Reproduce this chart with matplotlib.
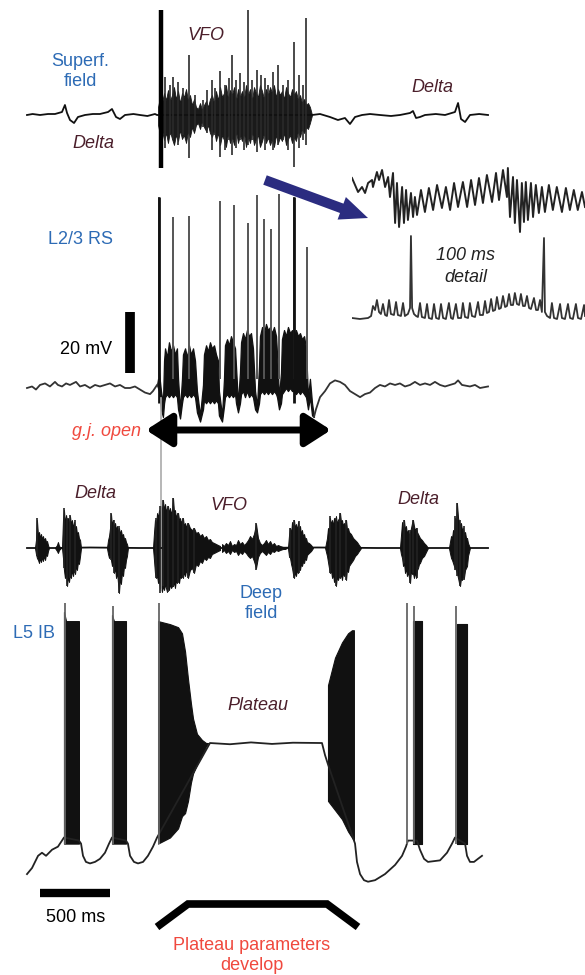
import matplotlib
matplotlib.use("Agg")
import matplotlib.pyplot as plt
from matplotlib.patches import FancyArrow

plt.rcParams['font.family'] = ['Liberation Sans', 'DejaVu Sans']

W, H = 585, 975
MS_PER_PX = 500 / 70.0   # taken from the 500 ms bar
T0_PX = 27               # left end of the long traces

BLUE = '#2d6bb5'
MAROON = '#4b1f2b'
RED = '#f0493e'
NAVY = '#2b2c80'
INK = '#111111'

# ---------------- superficial field (ms, a.u., + is up)
sf_t = [0, 40, 93, 150, 200, 250, 271, 286, 307, 336, 364, 414, 470, 521, 579, 607, 636, 664,
        700, 760, 807, 860, 914, 929, 2036, 2093, 2164, 2221, 2271, 2307, 2343, 2393, 2450,
        2521, 2600, 2664, 2736, 2757, 2779, 2807, 2843, 2920, 2986, 3057, 3079, 3100, 3129,
        3164, 3230, 3293]
sf_v = [0, 1, 0, 1, 1, 3, 10, 2, -5, -8, -2, 0, 1, 1, 3, 6, -2, -4,
        0, 1, 0, -1, 1, 0, 0, 1, -2, -5, -3, -9, -2, 0, 1,
        0, -1, 0, 2, 4, -3, -2, 0, 1, 0, 3, 12, -4, -7,
        0, 1, 0]

sf_env_t = [936, 950, 964, 979, 993, 1007, 1021, 1036, 1050, 1064, 1079, 1093, 1107, 1121,
            1136, 1150, 1164, 1179, 1193, 1207, 1221, 1236, 1250, 1264, 1279, 1293, 1307,
            1321, 1336, 1350, 1364, 1379, 1393, 1407, 1421, 1436, 1450, 1464, 1479, 1493,
            1507, 1521, 1536, 1550, 1564, 1579, 1593, 1607, 1621, 1636, 1650, 1664, 1679,
            1693, 1707, 1721, 1736, 1750, 1764, 1779, 1793, 1807, 1821, 1836, 1850, 1864,
            1879, 1893, 1907, 1921, 1936, 1950, 1964, 1979, 1993, 2007, 2021, 2036]
sf_env_hi = [8, 18, 12, 22, 15, 25, 14, 20, 28, 16, 24, 12, 22, 18, 26, 14, 20, 10, 16, 8,
             6, 12, 5, 10, 14, 8, 16,
             20, 12, 24, 15, 28, 18, 22, 30, 16, 25, 20, 28, 14, 26, 18,
             24, 16, 30, 20, 26, 14, 28, 22, 18, 30, 24, 16, 26, 20, 28,
             22, 30, 18, 26, 20, 24, 16, 28, 22, 18, 26, 20, 24, 15, 20, 12, 16, 10, 12, 8, 0]
sf_env_lo = [-10, -20, -15, -25, -18, -28, -16, -24, -30, -20, -26, -15, -24, -20, -28, -16,
             -22, -12, -18, -10,
             -8, -14, -6, -12, -16, -10, -18,
             -22, -15, -26, -18, -30, -20, -25, -32, -18, -28, -22, -30, -16, -28, -20,
             -26, -18, -32, -22, -28, -16, -30, -24, -20, -32, -26, -18, -28, -22, -30,
             -24, -32, -20, -28, -22, -26, -18, -30, -24, -20, -28, -22, -26, -16, -22, -14,
             -18, -12, -14, -8, 0]

sf_spk_t = [957, 986, 1021, 1043, 1079, 1114, 1157, 1200, 1257, 1286, 1321, 1343, 1379, 1414,
            1443, 1464, 1493, 1521, 1550, 1579, 1607, 1643, 1671, 1700, 1721, 1757, 1793,
            1829, 1864, 1907, 1943, 1971, 1993]
sf_spk_hi = [105, 38, 30, 38, 33, 27, 60, 20, 15, 25, 35, 27, 44, 30, 37, 60, 35, 42, 33,
             105, 35, 45, 40, 37, 30, 43, 50, 30, 35, 73, 40, 30, 97]
sf_spk_lo = [-53, -33, -20, -25, -30, -20, -43, -15, -12, -18, -35, -20, -42, -35, -25, -40,
             -33, -25, -35, -30, -25, -37, -25, -35, -25, -35, -30, -25, -35, -52, -33, -25, -30]

# ---------------- L2/3 RS cell (ms, mV)
rs_t = [0, 36, 64, 93, 129, 164, 200, 221, 250, 279, 307, 350, 379, 414, 450, 486, 521, 557,
        593, 629, 664, 700, 736, 771, 807, 843, 879, 900, 929,
        2050, 2064, 2093, 2129, 2164, 2200, 2236, 2271, 2307, 2343, 2379, 2414, 2450, 2486,
        2521, 2557, 2593, 2629, 2664, 2700, 2736, 2771, 2807, 2843, 2879, 2914, 2950, 2986,
        3021, 3057, 3079, 3107, 3164, 3200, 3236, 3293]
rs_v = [-65, -64.5, -65.5, -64, -63.5, -64.5, -63, -64, -64.5, -63.5, -64, -63, -64.5, -64,
        -65, -64, -64.5, -64, -63.5, -64.5, -64, -65, -65, -64.5, -65.5, -66.5, -67, -66, -64,
        -74.5, -72, -68, -66, -63.5, -62.5, -63, -64, -66, -67, -68, -67, -66.5, -65,
        -64, -64.5, -63.5, -64, -63.5, -64.5, -64, -63, -64, -63.5, -64, -63, -64, -64.5,
        -64, -63.5, -62.5, -64, -64.5, -64, -65, -64.5]

rs_env_t = [929, 943, 957, 971,
            979, 986, 1000, 1014, 1029, 1043, 1057, 1071, 1079, 1093, 1107,
            1114, 1129, 1143, 1157, 1171, 1186, 1200, 1214, 1236, 1257,
            1264, 1279, 1293, 1307, 1321, 1336, 1350, 1364, 1371, 1393, 1407,
            1414, 1429, 1443, 1457, 1471, 1486, 1493, 1507, 1521,
            1529, 1543, 1557, 1571, 1586, 1600, 1614, 1629, 1643, 1657,
            1664, 1679, 1693, 1707, 1721, 1736, 1750, 1764, 1779, 1786, 1800, 1814,
            1821, 1836, 1850, 1864, 1879, 1893, 1907, 1921, 1936, 1950, 1964, 1979, 1993,
            2007, 2021, 2036, 2050]
rs_env_hi = [-64, -60, -66, -70,
             -56, -52, -55, -50, -53, -51, -54, -52, -62, -72, -62,
             -54, -52, -55, -51, -54, -52, -56, -66, -74, -64,
             -54, -51, -53, -50, -52, -51, -54, -56, -66, -74, -62,
             -51, -49, -51, -48, -50, -52, -58, -70, -60,
             -50, -47, -49, -46, -48, -47, -52, -66, -71, -58,
             -48, -45, -47, -44, -46, -45, -47, -45, -48, -54, -68, -60,
             -49, -46, -48, -45, -47, -46, -48, -46, -48, -47, -49, -48, -52,
             -68, -62, -70, -74.5]
rs_env_lo = [-64, -66, -72, -74.5,
             -70, -68, -67, -68, -67, -68, -67, -68, -72, -75, -70,
             -68, -67, -68, -67, -68, -67, -68, -73, -76, -72,
             -69, -70, -69, -70, -69, -70, -69, -70, -74, -76, -71,
             -68, -67, -68, -67, -68, -67, -70, -73, -70,
             -67, -66, -68, -66, -68, -67, -68, -72, -73, -70,
             -67, -66, -67, -66, -67, -66, -67, -66, -67, -68, -72, -70,
             -67, -66, -65, -66, -65, -66, -66, -67, -66, -67, -66, -67, -68,
             -72, -68, -74, -74.5]

rs_spk_t = [943, 1043, 1157, 1379, 1479, 1579, 1643, 1693, 1743, 1800, 1907, 2000]
rs_spk_top = [-2.4, -9, -8.6, -3.7, -5, -10.9, -1.7, -9.6, -12.9, -1.4, -2.4, -18.8]

# ---------------- 100 ms detail (ms inside the window)
det_f_t = [0, 1.3, 2.6, 4.3, 5.6, 6.9, 8.6, 9.0, 10.7, 11.6, 12.9, 14.2, 15.5, 16.3, 17.6,
           18.5, 19.3, 20.2, 21.5, 22.3, 23.2, 24.0, 25.3, 26.2, 27.0, 27.9, 29.6, 31.3,
           33.0, 34.8, 36.5, 38.6, 40.3, 42.1, 43.8, 45.5, 47.6, 49.4, 51.1, 52.8, 54.5,
           56.2, 57.9, 60.1, 61.8, 63.1, 64.8, 66.5, 66.9, 67.8, 69.1, 69.9, 70.8, 72.1,
           72.9, 73.8, 74.6, 75.5, 76.8, 77.7, 78.9, 80.2, 81.5, 82.8, 84.5, 86.2, 87.9,
           90.1, 91.8, 93.5, 95.2, 96.9, 98.7, 100]
det_f_v = [17, 10, 3, 8, 2, 12, 15, 8, 23, 15, 25, 8, 18, -2, 22, -28, 12, -32, 8, -28,
           5, -25, 2, -22, -2, -20, 5, -17, 7, -15, 10, -13, 8, -15, 12, -12, 13, -12, 15, -10,
           17, -8, 20, -7, 22, -5, 25, -2, 27, -22, 18, -28, 15, -37, 12, -27, 13, -25, 12, -22,
           10, -18, 8, -17, 10, -15, 8, -17, 7, -15, 5, -15, 3, -12]

det_c_t = [0, 3.4, 6.9, 8.2, 9.0, 9.9, 10.7, 11.6, 12.4, 13.3, 14.2, 15.0, 15.9, 16.7, 18.0,
           18.9, 19.7, 21.0, 21.9, 22.7, 24.0, 24.9, 25.3, 25.8, 26.6, 27.5, 28.3, 29.2, 30.0,
           31.3, 32.2, 33.0, 34.3, 35.2, 36.1, 37.3, 38.2, 39.1, 40.3, 41.6, 42.5, 43.3, 44.6,
           45.5, 46.8, 47.6, 48.5, 49.8, 50.6, 51.5, 52.8, 54.1, 54.9, 56.2, 57.1, 57.9, 58.8,
           59.7, 60.5, 61.4, 62.2, 63.1, 63.9, 64.8, 65.7, 66.5, 67.4, 68.2, 69.1, 69.9, 70.8,
           71.7, 72.5, 73.4, 74.2, 75.1, 76.0, 76.8, 78.1, 79.0, 79.8, 80.7, 81.5, 82.4, 82.8,
           83.7, 85.0, 85.8, 86.7, 88.0, 89.3, 90.1, 91.4, 92.7, 93.6, 94.8, 96.1, 97.0, 98.3,
           99.6, 100]
det_c_v = [0, -1, 0, 2, 12, 8, 18, 6, 4, 14, 3, 2, 18, 4, 3,
           16, 3, 2, 15, 2, 4, 10, 82, 10, 4, 2, 1, 15, 1,
           0, 14, 0, -1, 14, 0, -1, 14, 0, -1, 15, 0, -1, 14,
           0, 0, 15, 1, 0, 15, 2, 1, 16, 3, 3, 17, 5, 6,
           19, 7, 8, 21, 9, 10, 22, 11, 12, 24, 13, 13, 25, 14,
           13, 24, 12, 12, 22, 10, 9, 20, 8, 8, 18, 6, 80, 6,
           2, 0, 15, 0, -1, 14, 0, -1, 14, 0, -1, 14, 0, -1,
           13, 2]

# ---------------- deep field (ms, a.u.)
df_line_t = [0, 200, 450, 800, 1500, 2080, 2500, 2950, 3293]
df_line_v = [0, 0, 0.5, 0, 0, 0.5, 0, 0, 0]

df_bursts = [
    ([57, 64, 71, 79, 86, 93, 100, 107, 114, 121, 129, 136, 143, 150, 157],
     [0, 8, 28, 12, 16, 10, 14, 9, 12, 8, 10, 6, 7, 3, 0],
     [0, -6, -10, -12, -15, -10, -14, -9, -13, -8, -12, -6, -8, -3, 0]),
    ([200, 214, 221, 229, 243],
     [0, 3, 6, 2, 0],
     [0, -3, -5, -2, 0]),
    ([250, 257, 264, 271, 279, 286, 293, 300, 307, 314, 321, 329, 336, 343, 350, 357, 364,
      371, 379, 386],
     [0, 28, 38, 25, 33, 26, 30, 22, 32, 24, 28, 20, 26, 18, 22, 14, 16, 10, 8, 0],
     [0, -10, -22, -30, -25, -38, -28, -34, -26, -30, -22, -28, -20, -26, -18, -22, -14,
      -16, -8, 0]),
    ([571, 579, 586, 593, 600, 607, 614, 621, 629, 636, 643, 650, 657, 664, 671, 679, 686,
      693, 700, 707, 714, 721],
     [0, 8, 12, 20, 34, 22, 28, 20, 25, 18, 22, 16, 20, 14, 18, 12, 14, 9, 10, 6, 4, 0],
     [0, -6, -10, -8, -12, -18, -14, -25, -20, -30, -24, -35, -45, -30, -36, -24, -28, -18,
      -20, -12, -8, 0]),
    ([900, 907, 914, 921, 929, 936, 943, 950, 957, 964, 971, 979, 986, 993, 1000, 1007,
      1014, 1021, 1029, 1036, 1043, 1050, 1057, 1064, 1071, 1079, 1086, 1093, 1100, 1107,
      1114, 1121, 1129, 1136, 1143, 1150, 1164, 1179, 1193, 1207, 1221, 1236, 1250, 1264,
      1279, 1293, 1307, 1321, 1336, 1350, 1364, 1379],
     [0, 15, 28, 22, 35, 30, 38, 32, 42, 36, 48, 38, 44, 36, 40, 42, 35, 40, 34, 38,
      50, 36, 38, 30, 34, 35, 28, 30, 25, 28, 30, 22, 25, 20, 24, 25, 20, 18, 20, 15,
      16, 12, 14, 10, 12, 8, 9, 6, 5, 4, 3, 2],
     [0, -12, -25, -30, -28, -35, -32, -40, -38, -44, -38, -42, -36, -40, -44, -38, -42,
      -36, -40, -38, -38, -34, -40, -32, -35, -30, -35, -28, -30, -26, -30, -24, -28, -22,
      -25, -30, -22, -20, -25, -16, -18, -13, -15, -10, -12, -9, -10, -6, -5, -4, -3, -2]),
    ([1393, 1407, 1421, 1436, 1450, 1464, 1479, 1493, 1507, 1521, 1536, 1550, 1564, 1579,
      1593, 1607, 1621, 1636, 1650, 1664, 1679, 1693, 1707, 1721, 1736, 1750, 1764, 1779,
      1793, 1807, 1829, 1843, 1857],
     [4, 2, 5, 3, 7, 2, 4, 3, 8, 4, 6, 3, 5, 8, 12, 9, 14, 24, 10, 5, 3, 5, 8, 4, 7, 3, 5,
      2, 3, 2, 1, 1, 0],
     [-4, -2, -5, -3, -6, -2, -4, -3, -7, -4, -6, -3, -5, -8, -10, -8, -13, -20, -9, -5, -3,
      -5, -7, -4, -6, -3, -4, -2, -3, -2, -1, -1, 0]),
    ([1864, 1871, 1879, 1886, 1893, 1900, 1907, 1914, 1921, 1929, 1936, 1943, 1950, 1957,
      1964, 1971, 1979, 1986, 1993, 2000, 2014, 2029, 2043],
     [0, 12, 20, 14, 26, 18, 28, 20, 24, 18, 26, 16, 22, 14, 18, 12, 14, 9, 10, 6, 5, 3, 0],
     [0, -8, -10, -16, -20, -26, -30, -24, -28, -22, -25, -20, -22, -16, -18, -14, -15, -10,
      -12, -7, -5, -3, 0]),
    ([2129, 2143, 2150, 2157, 2164, 2171, 2179, 2186, 2193, 2200, 2207, 2214, 2221, 2229,
      2236, 2243, 2250, 2257, 2264, 2271, 2279, 2286, 2293, 2300, 2314, 2329, 2343, 2357,
      2371, 2386],
     [0, 10, 20, 15, 30, 24, 28, 22, 30, 26, 32, 24, 28, 30, 35, 26, 28, 22, 25, 20, 28, 18,
      20, 16, 14, 10, 8, 6, 3, 0],
     [0, -8, -14, -20, -25, -22, -30, -26, -34, -30, -38, -28, -32, -28, -30, -26, -32, -24,
      -28, -22, -32, -20, -24, -18, -15, -12, -8, -6, -3, 0]),
    ([2664, 2671, 2679, 2686, 2693, 2700, 2707, 2714, 2721, 2729, 2736, 2743, 2750, 2757,
      2764, 2771, 2779, 2786, 2793, 2800, 2807, 2821, 2836, 2850, 2864],
     [0, 12, 26, 14, 28, 18, 22, 14, 18, 12, 16, 20, 25, 28, 22, 18, 20, 16, 14, 12, 10, 8,
      5, 3, 0],
     [0, -6, -10, -18, -15, -25, -20, -28, -24, -30, -35, -22, -26, -25, -30, -24, -30, -22,
      -20, -16, -15, -10, -8, -4, 0]),
    ([3014, 3021, 3029, 3036, 3043, 3050, 3057, 3064, 3071, 3079, 3086, 3093, 3100, 3107,
      3114, 3121, 3129, 3136, 3143, 3150, 3164],
     [0, 6, 12, 10, 18, 14, 30, 24, 45, 30, 26, 22, 25, 18, 20, 14, 16, 10, 10, 5, 0],
     [0, -5, -10, -12, -15, -18, -20, -22, -25, -30, -35, -38, -30, -32, -28, -30, -22, -20,
      -18, -8, 0]),
]

df_spk_t = [71, 264, 286, 307, 343, 600, 621, 657, 921, 950, 971, 1007, 1043, 1079, 1114,
            1150, 1193, 1636, 1879, 1907, 1943, 2164, 2207, 2236, 2279, 2693, 2736, 2757,
            2786, 3057, 3071, 3093, 3121]
df_spk_hi = [30, 40, 30, 33, 28, 35, 28, 22, 30, 42, 48, 42, 50, 35, 30, 25, 20, 25, 20,
             28, 27, 32, 30, 35, 28, 28, 18, 28, 20, 32, 45, 28, 22]
df_spk_lo = [-8, -20, -38, -30, -25, -12, -25, -45, -30, -45, -38, -44, -38, -35, -30, -30,
             -25, -22, -10, -30, -25, -25, -38, -30, -32, -15, -35, -25, -30, -22, -28, -38, -32]

# ---------------- L5 IB cell (ms, mV)
ib_t = [0, 36, 79, 107, 136, 179, 221, 250, 264, 371, 386, 400, 421, 450, 486, 521, 557, 586,
        607, 707, 721, 736, 764, 793, 829, 864, 900, 929, 1307, 1450, 1600, 1750, 1900, 2107,
        2129, 2150, 2343, 2357, 2379, 2407, 2436, 2486, 2557, 2629, 2679, 2707, 2721, 2786,
        2807, 2836, 2864, 2950, 3000, 3036, 3057, 3129, 3143, 3164, 3193, 3221, 3250]
ib_v = [-76, -74, -70, -69, -70, -68, -67, -65, -64, -65, -66, -70, -72, -72.5, -72, -71, -69,
        -66, -64, -65, -66, -70, -72, -72.5, -72, -70, -67, -64, -33, -33.4, -32.8, -33.3,
        -32.9, -33, -37, -40, -66, -72, -76, -78, -78.5, -78, -76, -73, -70, -67, -65, -65,
        -68, -71, -72, -71.5, -69, -66, -64, -66, -70, -72, -72, -71, -70]

ib_bursts = [
    ([264, 279, 371], [10, 7, 7], [-66, -66, -66]),
    ([607, 621, 707], [9, 7, 7], [-66, -66, -66]),
    ([936, 1021, 1079, 1107, 1129, 1150, 1171, 1186, 1214, 1250, 1279, 1293],
     [7, 6, 5, 3, -3, -12, -20, -25, -30, -32, -33, -33],
     [-66, -64, -61, -57, -56, -52, -46, -43, -40, -37, -34, -33]),
    ([2150, 2200, 2250, 2293, 2321, 2335],
     [-14, -5, 0, 3, 4, 4],
     [-52, -55, -58, -62, -64, -65]),
    ([2757, 2821], [7, 7], [-66, -66]),
    ([3071, 3143], [6, 6], [-66, -66]),
]
ib_spk_t = [271, 614, 943, 2714, 2764, 3064]
ib_spk_top = [13, 12, 13, 13, 12, 12]

marker_ms = 957

fig = plt.figure(figsize=(W / 100, H / 100), dpi=100)


def band(top, bottom, left=0, right=W):
    ax = fig.add_axes([left / W, 1 - bottom / H, (right - left) / W, (bottom - top) / H])
    ax.set_axis_off()
    ax.patch.set_alpha(0)
    return ax


def long_time(ax):
    ax.set_xlim(-T0_PX * MS_PER_PX, (W - T0_PX) * MS_PER_PX)


# superficial field
ax = band(0, 200)
long_time(ax)
ax.set_ylim(-85, 115)
ax.plot(sf_t, sf_v, color=INK, lw=1.3)
ax.fill_between(sf_env_t, sf_env_lo, sf_env_hi, color='#1a1a1a', lw=0.6)
ax.vlines(sf_spk_t, sf_spk_lo, sf_spk_hi, color='#2a2a2a', lw=1.2)
ax.vlines(sf_spk_t[0], sf_spk_lo[0], sf_spk_hi[0], color='black', lw=3.2)

# L2/3 RS
ax = band(180, 440)
long_time(ax)
ax.set_ylim(-82.05, 3.2)
ax.plot(rs_t[:29], rs_v[:29], color='#333333', lw=1.3)
ax.plot(rs_t[29:], rs_v[29:], color='#333333', lw=1.3)
ax.fill_between(rs_env_t, rs_env_lo, rs_env_hi, color=INK, edgecolor=INK, lw=0.9)
ax.vlines(rs_spk_t, -62, rs_spk_top, color='#555555', lw=1.4)
ax.vlines([rs_spk_t[0], rs_spk_t[-2]], -70, [rs_spk_top[0], rs_spk_top[-2]], color=INK, lw=2)
ax.plot([736, 736], [-60, -40], color='black', lw=7, solid_capstyle='butt')

# detail insets
ax = band(150, 240, 352, 585)
ax.set_xlim(0, 100)
ax.set_ylim(-45, 45)
ax.plot(det_f_t, det_f_v, color='#222222', lw=1.4)

ax = band(225, 330, 352, 585)
ax.set_xlim(0, 100)
ax.set_ylim(-12, 93)
ax.plot(det_c_t, det_c_v, color='#333333', lw=1.3)

# deep field
ax = band(460, 640)
long_time(ax)
ax.set_ylim(-92, 88)
ax.plot([marker_ms, marker_ms], [-42, 150], color='#aaaaaa', lw=1.2, clip_on=False)
ax.plot(df_line_t, df_line_v, color=INK, lw=1.3)
for bt, bhi, blo in df_bursts:
    ax.fill_between(bt, blo, bhi, color=INK, lw=0.7)
ax.vlines(df_spk_t, df_spk_lo, df_spk_hi, color='#222222', lw=1.2)

# L5 IB
ax = band(590, 900)
long_time(ax)
ax.set_ylim(-84.5, 17.2)
ax.plot(ib_t, ib_v, color='#222222', lw=1.3)
for bt, btop, bbot in ib_bursts:
    ax.fill_between(bt, bbot, btop, color=INK, lw=0.8)
ax.vlines(ib_spk_t, -66, ib_spk_top, color='#666666', lw=1.3)
ax.plot([93, 593], [-82.2, -82.2], color='black', lw=6, solid_capstyle='butt')

# overlay for labels and arrows, pixel units
ov = fig.add_axes([0, 0, 1, 1])
ov.set_xlim(0, W)
ov.set_ylim(H, 0)
ov.set_axis_off()
ov.patch.set_alpha(0)

ov.add_patch(FancyArrow(265, 180, 103, 38, width=10, head_width=24, head_length=28,
                        length_includes_head=True, color=NAVY, lw=0))
ov.annotate('', xy=(331, 430), xytext=(146, 430),
            arrowprops=dict(arrowstyle='<|-|>,head_length=0.7,head_width=0.45',
                            lw=5, color='black', mutation_scale=22, shrinkA=0, shrinkB=0))
ov.plot([157, 188, 327, 358], [927, 904, 904, 927], color='black', lw=5.5,
        solid_joinstyle='miter', solid_capstyle='butt')

fs = 13
ov.text(80, 62, 'Superf.', color=BLUE, fontsize=fs, ha='center', va='center')
ov.text(80, 82, 'field', color=BLUE, fontsize=fs, ha='center', va='center')
ov.text(206, 35, 'VFO', color=MAROON, fontsize=fs, style='italic', ha='center', va='center')
ov.text(93, 143, 'Delta', color=MAROON, fontsize=fs, style='italic', ha='center', va='center')
ov.text(432, 88, 'Delta', color=MAROON, fontsize=fs, style='italic', ha='center', va='center')
ov.text(80, 240, 'L2/3 RS', color=BLUE, fontsize=fs, ha='center', va='center')
ov.text(112, 349, '20 mV', color='black', fontsize=fs, ha='right', va='center')
ov.text(466, 256, '100 ms', color='#222222', fontsize=fs, style='italic', ha='center', va='center')
ov.text(466, 277, 'detail', color='#222222', fontsize=fs, style='italic', ha='center', va='center')
ov.text(141, 431, 'g.j. open', color=RED, fontsize=fs, style='italic', ha='right', va='center')
ov.text(95, 493, 'Delta', color=MAROON, fontsize=fs, style='italic', ha='center', va='center')
ov.text(229, 505, 'VFO', color=MAROON, fontsize=fs, style='italic', ha='center', va='center')
ov.text(418, 499, 'Delta', color=MAROON, fontsize=fs, style='italic', ha='center', va='center')
ov.text(261, 593, 'Deep', color=BLUE, fontsize=fs, ha='center', va='center')
ov.text(261, 613, 'field', color=BLUE, fontsize=fs, ha='center', va='center')
ov.text(13, 633, 'L5 IB', color=BLUE, fontsize=fs, ha='left', va='center')
ov.text(258, 705, 'Plateau', color=MAROON, fontsize=fs, style='italic', ha='center', va='center')
ov.text(76, 918, '500 ms', color='black', fontsize=fs, ha='center', va='center')
ov.text(252, 945, 'Plateau parameters', color=RED, fontsize=fs, ha='center', va='center')
ov.text(252, 966, 'develop', color=RED, fontsize=fs, ha='center', va='center')

fig.savefig('out.png', dpi=100)
